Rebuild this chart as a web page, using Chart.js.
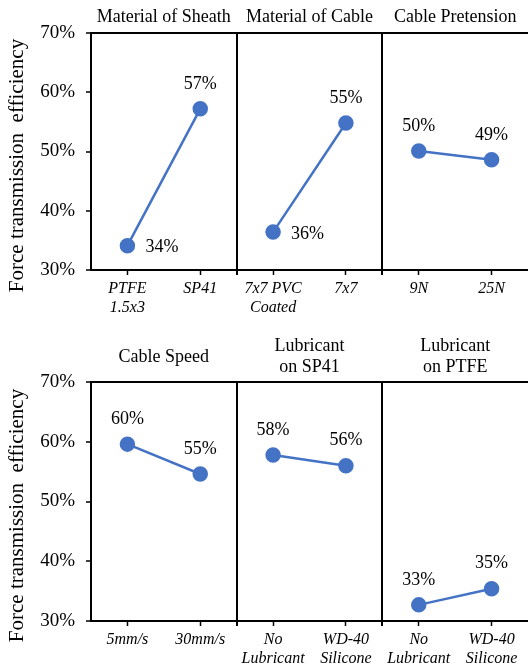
<!DOCTYPE html>
<html>
<head>
<meta charset="utf-8">
<script src="https://cdn.jsdelivr.net/npm/chart.js@4"></script>
<style>
  body { margin: 0; background: #fff; }
  canvas { display: block; }
</style>
</head>
<body>
<canvas id="top-chart" width="528" height="334"></canvas>
<canvas id="bottom-chart" width="528" height="335"></canvas>
<script>
// chart data
const topCategories = [['PTFE', '1.5x3'], 'SP41', ['7x7 PVC', 'Coated'], '7x7', '9N', '25N'];
const topGroups = [['Material of Sheath'], ['Material of Cable'], ['Cable Pretension']];
const topValues = [[34.1, 57.2], [36.4, 54.8], [50.1, 48.6]];

const bottomCategories = ['5mm/s', '30mm/s', ['No', 'Lubricant'], ['WD-40', 'Silicone'], ['No', 'Lubricant'], ['WD-40', 'Silicone']];
const bottomGroups = [['Cable Speed'], ['Lubricant', 'on SP41'], ['Lubricant', 'on PTFE']];
const bottomValues = [[59.6, 54.6], [57.8, 56.0], [32.7, 35.4]];

const yTicks = [30, 40, 50, 60, 70];
const yTitle = 'Force transmission  efficiency';

const SERIF = '"Liberation Serif", "Times New Roman", serif';
const BLUE = '#4472C4';

// each pair becomes its own dataset so the lines don't join across panels
function makeDatasets(values) {
  return values.map((pair, g) => {
    const data = new Array(values.length * 2).fill(null);
    data[g * 2] = pair[0];
    data[g * 2 + 1] = pair[1];
    return {
      data: data,
      borderColor: BLUE,
      backgroundColor: BLUE,
      borderWidth: 2.5,
      pointRadius: 6.5,
      pointHoverRadius: 6.5,
      spanGaps: false
    };
  });
}

const panelPlugin = {
  id: 'panels',
  afterDatasetsDraw(chart, args, opts) {
    const ctx = chart.ctx;
    const area = chart.chartArea;
    const x = chart.scales.x;
    ctx.save();

    // separators between panels
    ctx.strokeStyle = '#000';
    ctx.lineWidth = 2;
    for (let i = 1; i < opts.groups.length; i++) {
      const px = Math.round(x.getPixelForValue(i * 2 - 0.5));
      ctx.beginPath();
      ctx.moveTo(px, area.top);
      ctx.lineTo(px, area.bottom + 5);
      ctx.stroke();
    }

    ctx.fillStyle = '#000';
    ctx.textBaseline = 'middle';

    // y axis title, sits a bit below the middle like the original
    ctx.save();
    ctx.font = '21px ' + SERIF;
    ctx.textAlign = 'center';
    ctx.translate(17, (area.top + area.bottom) / 2 + 14);
    ctx.rotate(-Math.PI / 2);
    ctx.fillText(yTitle, 0, 0);
    ctx.restore();

    // panel titles
    ctx.font = '18px ' + SERIF;
    ctx.textAlign = 'center';
    opts.groups.forEach((lines, g) => {
      const cx = x.getPixelForValue(g * 2 + 0.5);
      const mid = area.top - opts.titleGap;
      lines.forEach((line, j) => {
        const y = mid + (j - (lines.length - 1) / 2) * opts.titleLine;
        ctx.fillText(line, cx, y);
      });
    });

    // value labels
    ctx.font = '18px ' + SERIF;
    chart.data.datasets.forEach((ds, d) => {
      const meta = chart.getDatasetMeta(d);
      const vals = ds.data.filter(v => v !== null);
      const diff = Math.abs(vals[0] - vals[1]);
      meta.data.forEach((pt, i) => {
        const v = ds.data[i];
        if (v === null) return;
        const isLow = v === Math.min(vals[0], vals[1]);
        if (diff > 10 && isLow) {
          ctx.textAlign = 'left';
          ctx.fillText(Math.round(v) + '%', pt.x + 18, pt.y + 2);
        } else {
          ctx.textAlign = 'center';
          ctx.fillText(Math.round(v) + '%', pt.x, pt.y - 25);
        }
      });
    });
    ctx.restore();
  }
};

function makeChart(id, categories, groups, values, padTop, axisHeight, titleGap, titleLine) {
  return new Chart(document.getElementById(id).getContext('2d'), {
    type: 'line',
    data: {
      labels: categories,
      datasets: makeDatasets(values)
    },
    options: {
      responsive: false,
      animation: false,
      layout: { autoPadding: false, padding: { top: padTop, right: 0, bottom: 0, left: 0 } },
      plugins: {
        legend: { display: false },
        tooltip: { enabled: false },
        panels: { groups: groups, titleGap: titleGap, titleLine: titleLine }
      },
      scales: {
        x: {
          offset: true,
          afterFit: scale => {
            scale.height = axisHeight;
            scale.paddingLeft = 0;
            scale.paddingRight = 0;
          },
          border: { display: true, color: '#000', width: 2 },
          grid: {
            drawOnChartArea: false,
            tickColor: '#000',
            tickLength: 5,
            tickWidth: 1.5
          },
          ticks: {
            color: '#000',
            padding: 4,
            maxRotation: 0,
            autoSkip: false,
            font: { family: SERIF, size: 16, style: 'italic', lineHeight: 1.2 }
          }
        },
        y: {
          min: yTicks[0],
          max: yTicks[yTicks.length - 1],
          afterBuildTicks: scale => {
            scale.ticks = yTicks.map(v => ({ value: v }));
          },
          afterFit: scale => {
            scale.width = 91;
          },
          border: { display: true, color: '#000', width: 2 },
          grid: {
            color: c => (c.tick && c.tick.value === yTicks[yTicks.length - 1]) ? '#000' : 'rgba(0,0,0,0)',
            lineWidth: 2,
            tickColor: '#000',
            tickLength: 5,
            tickWidth: 1.5
          },
          ticks: {
            color: '#000',
            padding: 11,
            callback: v => v + '%',
            font: { family: SERIF, size: 19 }
          }
        }
      }
    },
    plugins: [panelPlugin]
  });
}

makeChart('top-chart', topCategories, topGroups, topValues, 33, 64, 16, 21);
makeChart('bottom-chart', bottomCategories, bottomGroups, bottomValues, 48, 48, 25, 21);
</script>
</body>
</html>
